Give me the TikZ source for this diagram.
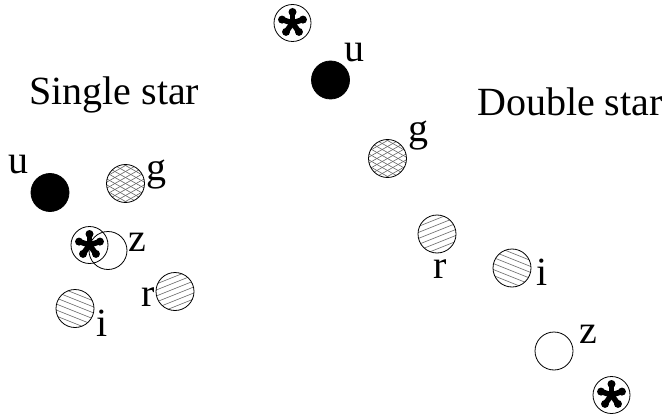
\documentclass[tikz,border=0pt]{standalone}
\usepackage{fontspec}
\setmainfont{Liberation Serif}
\begin{document}
\begin{tikzpicture}[x=1pt,y=-1pt,
  disc/.style={circle,draw,line width=0.8pt,minimum size=38pt,inner sep=0pt},
  solid disc/.style={disc,fill=black},
  hatchline/.style={draw=black!60,line width=0.6pt},
  lined/.style={disc,path picture={
    \begin{scope}[shift={(path picture bounding box.center)}]
      \foreach \k in {-33,-27,...,33}
        \draw[hatchline] (-25pt,{(\k-#1)*1pt}) -- (25pt,{(\k+#1)*1pt});
    \end{scope}}},
  meshed/.style={disc,path picture={
    \begin{scope}[shift={(path picture bounding box.center)}]
      \foreach \k in {-42,-36,...,42}{
        \draw[hatchline] (-30pt,{(\k-17)*1pt}) -- (30pt,{(\k+17)*1pt});
        \draw[hatchline] (-30pt,{(\k+17)*1pt}) -- (30pt,{(\k-17)*1pt});}
    \end{scope}}},
  stardisc/.style={disc,minimum size=37pt,path picture={
    \foreach \a in {90,162,234,306,18}{
      \draw[line width=5.5pt] (path picture bounding box.center) -- ++(\a:10pt);
      \fill (path picture bounding box.center) ++(\a:11pt) circle (4pt);}}},
  lbl/.style={font=\fontsize{40}{48}\selectfont,inner sep=0pt,anchor=base}
]
\useasboundingbox (0,0) rectangle (671,414);

% titles
\node[lbl,anchor=base west] (t1) at (29,105) {Single star};
\node[lbl,anchor=base west] (t2) at (477,115.5) {Double star};

% single star group
\node[solid disc] (lu) at (50,192.5) {};
\node[lbl] (lut) at (19,174) {u};
\node[meshed] (lg) at (125.5,183.5) {};
\node[lbl] (lgt) at (156,180) {g};
\node[disc] (lz) at (108,250.5) {};
\node[stardisc] (ls) at (89.5,245) {};
\node[lbl] (lzt) at (137.5,251) {z};
\node[lined=-10] (li) at (75,308.5) {};
\node[lbl] (lit) at (102,336.5) {i};
\node[lined=10] (lr) at (175,291.5) {};
\node[lbl] (lrt) at (148.5,306.5) {r};

% double star group
\node[stardisc] (rs1) at (292.5,23) {};
\node[solid disc] (ru) at (330.5,80) {};
\node[lbl] (rut) at (354,62) {u};
\node[meshed] (rg) at (387.5,158.5) {};
\node[lbl] (rgt) at (418,142) {g};
\node[lined=10] (rr) at (437,234) {};
\node[lbl] (rrt) at (440.5,278) {r};
\node[lined=-10] (ri) at (512,268) {};
\node[lbl] (rit) at (542,285) {i};
\node[disc] (rz) at (554,351) {};
\node[lbl] (rzt) at (588.5,343) {z};
\node[stardisc] (rs2) at (611.5,395) {};
\end{tikzpicture}
\end{document}
